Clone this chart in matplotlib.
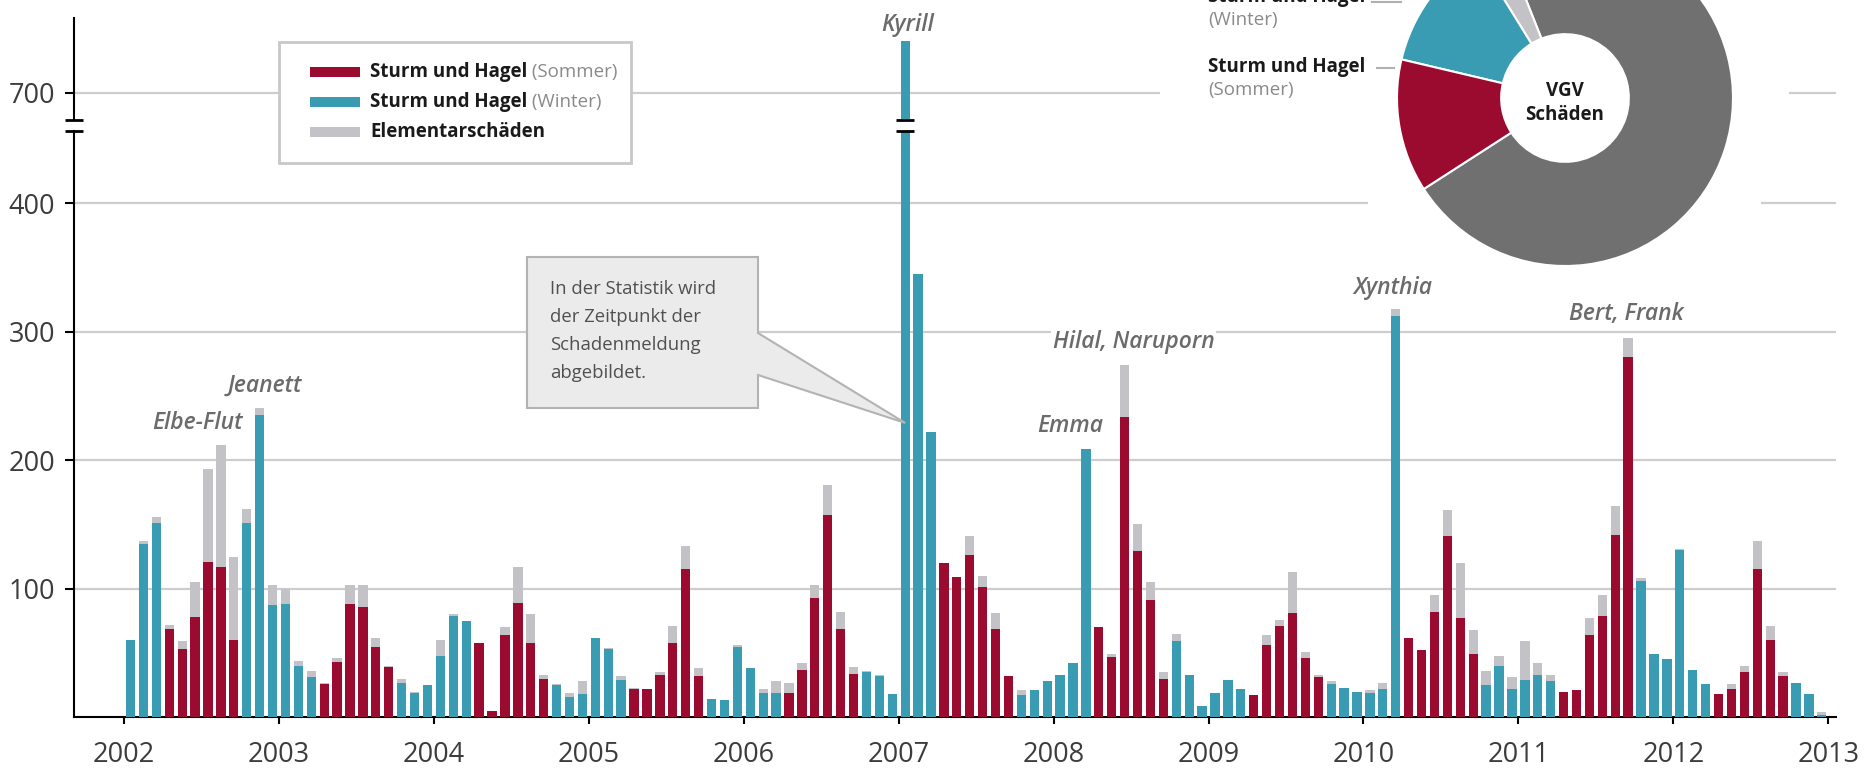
import numpy as np
import matplotlib.pyplot as plt
from matplotlib.patches import Rectangle, Polygon

plt.rcParams['font.family'] = ['Open Sans', 'DejaVu Sans']

W, H = 1865, 768

years = list(range(2002, 2014))

# Schadenmeldungen Sturm und Hagel je Monat, Jan 2002 - Dez 2012
sturm = [
    60, 135, 151, 69, 53, 78, 121, 117, 60, 151, 235, 87,     # 2002
    88, 40, 31, 26, 43, 88, 86, 55, 39, 27, 19, 25,           # 2003
    48, 79, 75, 58, 5, 64, 89, 58, 30, 25, 16, 18,            # 2004
    62, 53, 29, 22, 22, 33, 58, 115, 32, 14, 13, 55,          # 2005
    38, 19, 19, 19, 37, 93, 157, 69, 34, 35, 32, 18,          # 2006
    740, 345, 222, 120, 109, 126, 101, 69, 32, 17, 21, 28,    # 2007
    33, 42, 209, 70, 47, 234, 129, 91, 30, 59, 33, 9,         # 2008
    19, 29, 22, 17, 56, 71, 81, 46, 31, 26, 23, 20,           # 2009
    19, 22, 312, 62, 52, 82, 141, 77, 49, 25, 40, 22,         # 2010
    29, 33, 28, 20, 21, 64, 79, 142, 280, 106, 49, 45,        # 2011
    130, 37, 26, 18, 22, 35, 115, 60, 32, 27, 18, 2,          # 2012
]
# Elementarschaeden je Monat (oben auf den Sturmbalken)
elementar = [
    0, 2, 5, 3, 6, 27, 72, 95, 65, 11, 6, 16,
    12, 4, 5, 1, 3, 15, 17, 7, 1, 3, 1, 0,
    12, 1, 0, 0, 0, 6, 28, 22, 3, 1, 3, 10,
    0, 1, 3, 1, 0, 2, 13, 18, 6, 0, 0, 1,
    0, 3, 9, 8, 5, 10, 24, 13, 5, 1, 1, 0,
    0, 0, 0, 0, 0, 15, 9, 12, 0, 4, 0, 0,
    0, 0, 0, 0, 2, 40, 21, 14, 5, 6, 0, 0,
    0, 0, 0, 0, 8, 5, 32, 5, 2, 2, 0, 0,
    2, 5, 6, 0, 0, 13, 20, 43, 19, 11, 8, 9,
    30, 9, 5, 0, 0, 13, 16, 22, 15, 2, 0, 0,
    1, 0, 0, 0, 4, 5, 22, 11, 3, 0, 0, 2,
]

sturm_namen = ['Elbe-Flut', 'Jeanett', 'Kyrill', 'Emma', 'Hilal, Naruporn', 'Xynthia', 'Bert, Frank']

donut_labels = ['Sonstige', 'Elementarschäden', 'Sturm und Hagel (Winter)', 'Sturm und Hagel (Sommer)']
donut_anteile = [71.9, 2.8, 12.5, 12.8]

RED = '#9b0a2f'
TEAL = '#3a9cb3'
LGRAY = '#c3c3c7'
DGRAY = '#707070'
GRID = '#cdcdcd'
TXT = '#3c3c3c'
FS = 13.5

n = len(sturm)
x = np.arange(n) + 0.5
monat = np.arange(n) % 12
ist_sommer = (monat >= 3) & (monat <= 8)
sommer = np.where(ist_sommer, sturm, 0)
winter = np.where(ist_sommer, 0, sturm)


def box(x0, top, x1, bottom):
    # pixel box (y from top) -> figure fraction
    return [x0 / W, 1 - bottom / H, (x1 - x0) / W, (bottom - top) / H]


fig = plt.figure(figsize=(W / 100, H / 100), dpi=100)
ax_lo = fig.add_axes(box(74, 131, 1836, 717.2))
ax_hi = fig.add_axes(box(74, 17.8, 1836, 119))

for ax in (ax_lo, ax_hi):
    ax.bar(x, sommer, width=0.72, color=RED, zorder=3)
    ax.bar(x, winter, width=0.72, color=TEAL, zorder=3)
    ax.bar(x, elementar, bottom=sturm, width=0.72, color=LGRAY, zorder=3)
    ax.set_xlim(-3.88, 132.6)
    ax.yaxis.grid(True, color=GRID, lw=1.6)
    ax.set_axisbelow(True)
    ax.spines['top'].set_visible(False)
    ax.spines['right'].set_visible(False)
    ax.spines['left'].set_linewidth(1.5)
    ax.tick_params(axis='y', length=6.5, width=1.5, labelsize=19.5, labelcolor=TXT, pad=7)

ax_lo.set_ylim(0, 456.2)
ax_lo.set_yticks([100, 200, 300, 400])
ax_lo.spines['bottom'].set_linewidth(1.5)
ax_lo.set_xticks(np.arange(0, n + 1, 12))
ax_lo.set_xticklabels(years)
ax_lo.tick_params(axis='x', length=5, width=1.5, labelsize=19.5, labelcolor=TXT, pad=12)

ax_hi.set_ylim(679.6, 758.4)
ax_hi.set_yticks([700])
ax_hi.spines['bottom'].set_visible(False)
ax_hi.set_xticks([])

# Sturmnamen
name_pos = [(5.65, 229), (10.9, 258), (60.7, 753), (73.3, 227), (78.2, 292), (98.3, 334), (116.4, 314)]
for name, (nx, ny) in zip(sturm_namen, name_pos):
    a = ax_hi if ny > 600 else ax_lo
    a.text(nx, ny, name, ha='center', va='center', fontsize=16.5, fontweight='semibold',
           style='italic', color='#6b6b6b', zorder=5,
           bbox=dict(fc='white', ec='none', pad=1))

# overlay in pixel coordinates
ov = fig.add_axes([0, 0, 1, 1], zorder=5)
ov.set_xlim(0, W)
ov.set_ylim(H, 0)
ov.axis('off')

# axis break marks on spine and on the Kyrill bar
kx = ax_lo.transData.transform((x[60], 0))[0]
for cx in (74, kx):
    for yy in (120, 130.5):
        ov.plot([cx - 9, cx + 9], [yy, yy], color='black', lw=2, solid_capstyle='butt')

# legend
ov.add_patch(Rectangle((279, 42), 352, 121, fc='white', ec='#c8c8c8', lw=2))
entries = [('Sturm und Hagel', ' (Sommer)', RED),
           ('Sturm und Hagel', ' (Winter)', TEAL),
           ('Elementarschäden', '', LGRAY)]
for (fett, zusatz, c), yy in zip(entries, (71.7, 101.7, 131.7)):
    ov.add_patch(Rectangle((310, yy - 5), 50, 10, fc=c, ec='none'))
    t = ov.text(370, yy, fett, fontsize=FS, fontweight='bold', va='center', color='#1a1a1a')
    if zusatz:
        ov.annotate(zusatz, xy=(1, 0.5), xycoords=t, va='center', ha='left',
                    fontsize=FS, color='#8a8a8a')

# callout
tip = ax_lo.transData.transform((x[60], 229))
tip_px = (tip[0], H - tip[1])
ov.add_patch(Polygon([(527, 257), (758, 257), (758, 333), tip_px, (758, 375), (758, 408), (527, 408)],
                     closed=True, fc='#ebebeb', ec='#b3b3b3', lw=1.5))
ov.text(550, 331, 'In der Statistik wird\nder Zeitpunkt der\nSchadenmeldung\nabgebildet.',
        ha='left', va='center', fontsize=13.3, linespacing=1.7, color='#505050')

# white area behind the donut
ov.add_patch(Rectangle((1160, -5), 629, 155, fc='white', ec='none'))
ov.add_patch(Rectangle((1368, -5), 393, 280, fc='white', ec='none'))

# donut labels
ov.text(1208, -3, 'Sturm und Hagel', fontsize=FS, fontweight='bold', va='center', color='#1a1a1a')
ov.text(1208, 20, '(Winter)', fontsize=FS, va='center', color='#8a8a8a')
ov.plot([1372, 1401], [2, 2], color='#b0b0b0', lw=1.5)
ov.text(1208, 66.7, 'Sturm und Hagel', fontsize=FS, fontweight='bold', va='center', color='#1a1a1a')
ov.text(1208, 90, '(Sommer)', fontsize=FS, va='center', color='#8a8a8a')
ov.plot([1377, 1394], [68, 68], color='#b0b0b0', lw=1.5)

dax = fig.add_axes(box(1397, -70, 1733, 266), zorder=6)
dax.pie(donut_anteile, colors=[DGRAY, LGRAY, TEAL, RED], startangle=212.8, counterclock=True,
        radius=1, wedgeprops=dict(width=0.62, edgecolor='white', linewidth=1.5))
dax.set_xlim(-1, 1)
dax.set_ylim(-1, 1)
dax.text(0, -0.03, 'VGV\nSchäden', ha='center', va='center', fontsize=FS,
         fontweight='bold', color='#1a1a1a', linespacing=1.3)

fig.savefig('out.png', dpi=100)
